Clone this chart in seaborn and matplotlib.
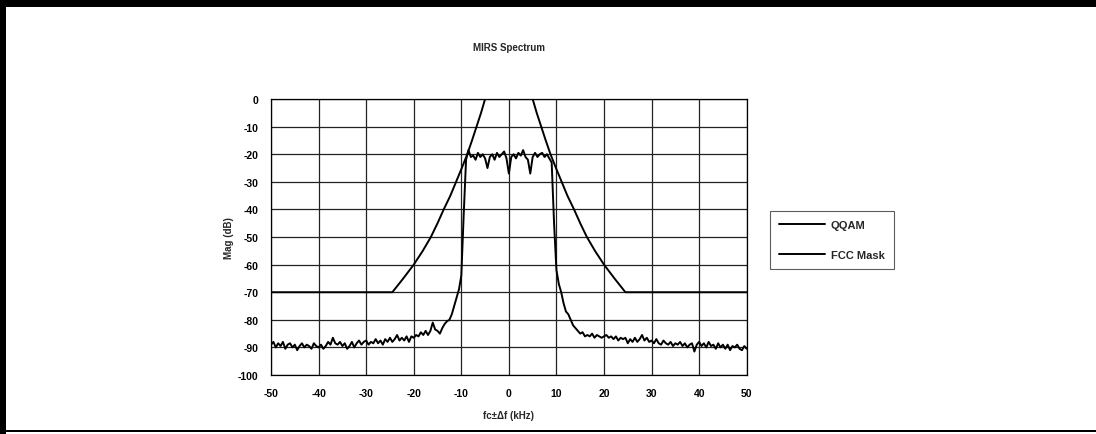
import numpy as np
import pandas as pd
import matplotlib
matplotlib.use("Agg")
import matplotlib.pyplot as plt
from matplotlib.patches import Rectangle
import seaborn as sns

# QQAM spectrum, every 0.5 kHz from -50 to +50
qqam_freq = np.linspace(-50, 50, 201)
qqam_mag = [
    -89, -88, -90, -88.5, -89.5, -88, -90.5, -89, -88.5, -90,
    -89, -91, -89.5, -88.5, -90, -89, -89.5, -90.5, -88.5, -89.5,
    -90, -89, -90.5, -89.5, -88, -89, -86.5, -88.5, -89, -88,
    -89.5, -88.5, -90.5, -89.5, -88, -90, -88.5, -87.5, -89, -88,
    -87.5, -89, -88, -88.5, -87, -88.5, -87.5, -89, -87, -88,
    -86.5, -88, -87, -85.5, -87.5, -86.5, -87.5, -86, -88, -86,
    -86.5, -85.5, -86, -84.5, -85.5, -84, -85.5, -84, -81, -83.5,
    -84, -85, -83, -81.5, -80.5, -80, -78, -75, -72, -69,
    -64, -42, -22, -18.5, -21, -20.5, -22, -19.5, -21, -20,
    -21.5, -25, -21, -20, -22, -19.5, -21, -20, -19, -21.5,
    -27, -21, -20, -21.5, -19.5, -20.5, -18.5, -21, -22, -27,
    -21, -19.5, -21, -20, -19.5, -21, -20, -21.5, -23, -45,
    -62, -67, -70, -74, -77, -78, -80, -82, -83, -84,
    -85, -84.5, -86, -85.5, -86, -85, -86.5, -85.5, -86, -86.5,
    -86, -85.5, -86.5, -86, -87, -86, -87.5, -86.5, -87, -86.5,
    -88.5, -87, -88, -86.5, -88, -87, -85.5, -87.5, -86.5, -88,
    -87.5, -88.5, -87, -88.5, -89, -87.5, -88.5, -89, -88, -89.5,
    -88.5, -89, -88, -89.5, -88.5, -90, -89, -88.5, -91.5, -89,
    -88, -89.5, -88.5, -90, -88, -89.5, -89, -90.5, -88.5, -90,
    -89, -90.5, -89, -91, -89.5, -90, -89, -90.5, -91, -89.5,
    -90.5,
]

# FCC emission mask corner/curve points
mask_freq = [-50, -24.5, -22.2, -20, -18.1, -16.4, -15.0, -13.7, -12.3, -11.1,
             -9.9, -8.75, -7.75, -6.8, -5.85, -5, 5, 5.85, 6.8, 7.75, 8.75,
             9.9, 11.1, 12.3, 13.7, 15.0, 16.4, 18.1, 20, 22.2, 24.5, 50]
mask_mag = [-70, -70, -65, -60, -55, -50, -45, -40, -35, -30,
            -25, -20, -15, -10, -5, 0, 0, -5, -10, -15, -20,
            -25, -30, -35, -40, -45, -50, -55, -60, -65, -70, -70]

x_ticks = list(range(-50, 51, 10))
y_ticks = list(range(-100, 1, 10))

df = pd.concat([
    pd.DataFrame({"f": qqam_freq, "mag": qqam_mag, "series": "QQAM"}),
    pd.DataFrame({"f": mask_freq, "mag": mask_mag, "series": "FCC Mask"}),
], ignore_index=True)

sns.set_style("white")
plt.rcParams["font.family"] = ["Liberation Sans", "DejaVu Sans"]
plt.rcParams["font.weight"] = "bold"
plt.rcParams["axes.unicode_minus"] = False

fig = plt.figure(figsize=(10.96, 4.35), dpi=100)
ax = fig.add_axes([0.2473, 0.1356, 0.434, 0.6344])

sns.lineplot(data=df, x="f", y="mag", hue="series", estimator=None, sort=False,
             palette={"QQAM": "black", "FCC Mask": "black"}, linewidth=1.4, ax=ax)

ax.set_xlim(-50, 50)
ax.set_ylim(-100, 0)
ax.set_xticks(x_ticks)
ax.set_yticks(y_ticks)
ax.grid(True, color="#222222", linewidth=0.9)
for s in ax.spines.values():
    s.set_color("black")
    s.set_linewidth(0.9)
ax.tick_params(axis="both", direction="out", length=3, width=0.9, labelsize=7.5,
               colors="black", pad=6)
for lab in ax.get_xticklabels() + ax.get_yticklabels():
    lab.set_fontweight("bold")

ax.set_title("MIRS Spectrum", fontsize=7, fontweight="bold", pad=35)
ax.set_xlabel("fc\u00b1\u0394f (kHz)", fontsize=7, fontweight="bold", labelpad=9)
ax.set_ylabel("Mag (dB)", fontsize=7, fontweight="bold", labelpad=3)

leg = ax.legend(loc="center left", bbox_to_anchor=(1.038, 0.488), frameon=True,
                fancybox=False, edgecolor="#333333", fontsize=8, handlelength=4.1,
                borderpad=0.8, labelspacing=1.8, handletextpad=0.55)
leg.get_frame().set_linewidth(0.8)
for t in leg.get_texts():
    t.set_fontweight("bold")

# scanned page frame
fig.add_artist(Rectangle((0, 1 - 8 / 435), 1, 8 / 435, transform=fig.transFigure,
                         color="black", lw=0))
fig.add_artist(Rectangle((0, 0), 6 / 1096, 1, transform=fig.transFigure,
                         color="black", lw=0))
fig.add_artist(Rectangle((0, 2 / 435), 1, 2 / 435, transform=fig.transFigure,
                         color="black", lw=0))

fig.savefig("out.png", dpi=100)
